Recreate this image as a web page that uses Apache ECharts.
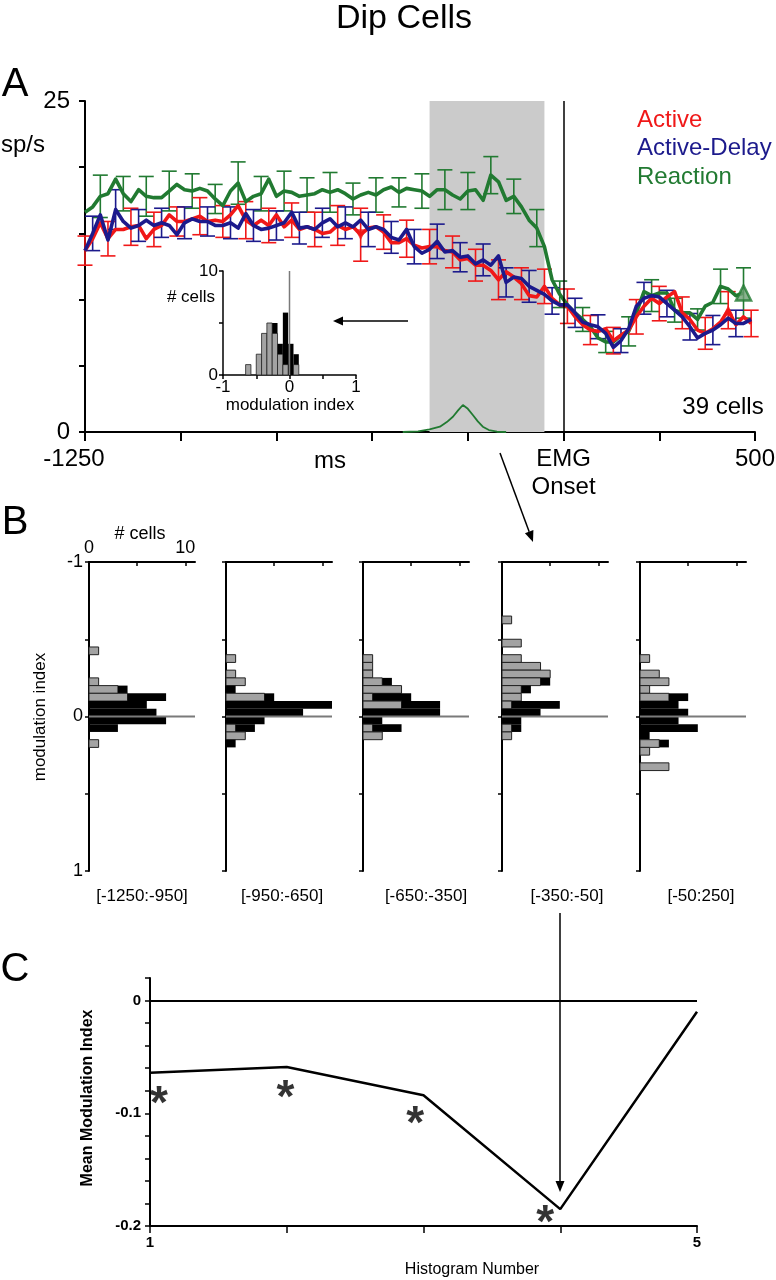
<!DOCTYPE html>
<html><head><meta charset="utf-8">
<script src="https://cdn.jsdelivr.net/npm/echarts@6.0.0/dist/echarts.min.js"></script>
<style>html,body{margin:0;padding:0;background:#fff;}#chart{width:776px;height:1280px;}</style>
</head><body><div id="chart"></div>
<script>
// ================= DATA =================
// Panel A: mean firing rate (sp/s) in 20 ms bins, time relative to EMG onset
const timeMs = [-1250,-1230,-1210,-1190,-1170,-1150,-1130,-1110,-1090,-1070,-1050,-1030,-1010,-990,-970,-950,-930,-910,-890,-870,-850,-830,-810,-790,-770,-750,-730,-710,-690,-670,-650,-630,-610,-590,-570,-550,-530,-510,-490,-470,-450,-430,-410,-390,-370,-350,-330,-310,-290,-270,-250,-230,-210,-190,-170,-150,-130,-110,-90,-70,-50,-30,-10,10,30,50,70,90,110,130,150,170,190,210,230,250,270,290,310,330,350,370,390,410,430,450,470,490];
const active = [13.7,14.6,15.8,14.6,15.3,15.3,15.5,15.6,14.6,15.3,15.6,16.4,15.9,15.9,16.1,16.3,15.9,16.0,15.9,16.4,17.1,16.0,15.6,16.0,15.6,16.4,15.5,16.0,15.3,15.5,
  15.3,15.0,15.1,15.6,15.3,15.5,14.9,15.4,15.5,15.1,14.3,14.3,14.6,14.1,13.9,14.0,14.0,13.7,13.6,13.0,13.1,12.6,12.6,12.2,11.5,12.1,11.7,
  11.2,10.3,10.2,11.0,10.1,9.6,9.5,8.7,8.1,7.7,7.6,7.8,6.9,7.3,7.7,8.7,9.5,10.1,9.7,10.2,10.6,9.0,8.5,7.7,7.45,7.8,8.3,9.2,8.1,8.7,8.2];
const activeDelay = [13.7,15.0,16.4,14.5,16.8,15.9,15.4,15.6,16.0,15.6,15.8,15.6,14.9,15.8,16.1,15.9,15.9,15.6,15.6,15.8,15.4,16.5,15.6,15.3,15.4,15.6,15.8,16.6,15.4,15.5,
  15.3,15.8,16.1,15.5,15.8,15.5,16.0,15.3,15.5,15.3,14.7,14.5,15.3,14.0,13.5,13.8,14.4,13.6,13.7,13.2,13.3,12.7,13.0,12.6,13.3,11.3,11.7,
  11.6,11.0,10.7,10.4,9.9,9.6,9.6,9.0,8.3,8.1,7.95,7.45,6.4,6.9,7.8,9.5,10.1,10.3,10.2,9.7,9.2,8.7,7.95,7.1,7.45,7.7,8.1,8.6,8.2,8.2,8.5];
const reaction = [16.6,17.0,17.8,18.0,19.1,18.0,17.4,18.3,17.8,17.7,17.7,18.2,18.7,18.3,18.2,18.4,18.2,17.6,17.1,18.2,18.8,17.4,17.8,18.0,19.1,17.8,18.2,18.1,17.8,17.9,
  18.0,18.3,18.1,18.3,18.0,17.6,17.9,18.1,17.9,18.3,18.5,18.1,18.4,18.3,18.2,17.8,18.3,18.3,17.9,17.6,18.2,18.3,17.5,19.4,18.9,17.5,17.8,
  17.0,16.0,15.4,14.0,11.5,10.4,9.6,9.0,8.5,7.95,7.1,6.8,6.8,7.3,7.6,9.0,10.6,10.3,10.5,10.5,9.2,9.0,9.0,8.5,9.5,9.8,11.0,10.8,10.3,10.5,null];
// SEM at every third bin (staggered per condition)
const activeErr = [1.1,1.3,1.4,1.3,1.1,1.4,1.2,1.4,1.3,1.3,1.3,1.5,2.0,1.3,1.4,1.3,1.2,1.2,1.5,1.2,1.3,1.3,1.1,1.0,1.3,1.3,1.2,1.2,1.4,1.0];
const activeDelayErr = [1.3,1.5,1.2,1.1,1.2,1.1,1.2,1.2,1.1,1.2,1.1,1.2,1.3,1.2,1.3,1.3,1.1,1.2,1.1,1.2,1.0,1.1,0.9,0.9,1.2,1.0,1.0,1.1,1.0];
const reactionErr = [1.6,1.3,1.5,1.5,1.3,1.1,1.6,1.3,1.5,1.3,1.5,1.2,1.3,1.1,1.3,1.5,1.4,1.4,1.3,1.4,1.0,0.9,0.8,1.1,1.2,0.9,0.8,1.3,1.9];
const errFirstBin = {active: 0, activeDelay: 1, reaction: 2};
// triangle markers (bin indices)
const activeDownMarks = [36];
const activeUpMarks = [84];
const reactionEndMarks = [86];
// reaction-time distribution curve (green, bottom)
const rtDistMs  = [-420,-380,-350,-323,-305,-289,-275,-263,-250,-237,-224,-211,-195,-174,-150];
const rtDistVal = [0,0.05,0.2,0.4,0.75,1.15,1.65,2.04,1.75,1.28,0.8,0.4,0.15,0.02,0];
const analysisWindowMs = [-350, -50];
const emgOnsetMs = 0;
const seriesNames = ['Active', 'Active-Delay', 'Reaction'];
const aXLabelValues = [-1250, 0, 500];
const aXLabelTexts = ['-1250', 'EMG\nOnset', '500'];
const aYLabelValues = [0, 25];

// Inset histogram (modulation index in the shaded window)
const insetBinLower = [-0.66,-0.58,-0.5,-0.42,-0.34,-0.26,-0.18,-0.1,-0.02,0.06];
const insetBinWidth = 0.08;
const insetGray  = [1,0,2,4,5,4,2,1,0,1];
const insetBlack = [0,0,0,0,0,1,1,5,3,1];

// Panel B histograms (bins of 0.05 modulation index)
const miBinLower = [-0.65,-0.6,-0.55,-0.5,-0.45,-0.4,-0.35,-0.3,-0.25,-0.2,-0.15,-0.1,-0.05,0,0.05,0.1,0.15,0.2,0.25,0.3];
const miBinWidth = 0.05;
const hist1Gray  = [0,0,0,0,1,0,0,0,1,3,4,0,0,0,0,0,1,0,0,0];
const hist1Black = [0,0,0,0,0,0,0,0,0,1,4,6,7,8,3,0,0,0,0,0];
const hist2Gray  = [0,0,0,0,0,1,0,1,2,0,4,0,0,0,1,2,0,0,0,0];
const hist2Black = [0,0,0,0,0,0,0,0,0,1,1,11,8,4,2,0,1,0,0,0];
const hist3Gray  = [0,0,0,0,0,1,1,1,2,4,1,4,0,0,1,2,0,0,0,0];
const hist3Black = [0,0,0,0,0,0,0,0,1,0,4,4,8,2,3,0,0,0,0,0];
const hist4Gray  = [1,0,0,2,0,2,4,5,4,2,2,1,0,0,1,1,0,0,0,0];
const hist4Black = [0,0,0,0,0,0,0,0,1,1,0,5,4,2,1,0,0,0,0,0];
const hist5Gray  = [0,0,0,0,0,1,0,2,3,1,3,0,0,0,0,0,2,1,0,3];
const hist5Black = [0,0,0,0,0,0,0,0,0,0,2,4,5,4,6,1,1,0,0,0];
const histLabels = ['[-1250:-950]', '[-950:-650]', '[-650:-350]', '[-350:-50]', '[-50:250]'];

// Panel C
const histNumber = [1, 2, 3, 4, 5];
const meanMI = [-0.064, -0.059, -0.084, -0.185, -0.010];
const starX = [1.066, 1.99, 2.94, 3.89];
const starY = [-0.082, -0.077, -0.100, -0.188];

// ================= STYLE / LAYOUT =================
const F = '"Liberation Sans", Arial, Helvetica, sans-serif';
const RED = '#f01818', NAVY = '#1c1a8c', GREEN = '#217a31', GRAYBAR = '#a3a3a3';
const histLeft = [89, 226, 363, 502, 640];
const histLabelX = [142, 282, 426, 567, 701];

const histGray = [hist1Gray, hist2Gray, hist3Gray, hist4Gray, hist5Gray];
const histBlack = [hist1Black, hist2Black, hist3Black, hist4Black, hist5Black];

function errData(vals, errs, start) {
  return errs.map(function (e, j) { const k = start + 3 * j; return [timeMs[k], vals[k], e]; });
}
function errRender(color) {
  return function (params, api) {
    const t = api.value(0), v = api.value(1), e = api.value(2);
    const a = api.coord([t, v + e]), b = api.coord([t, v - e]);
    const hw = 7.5, st = {stroke: color, lineWidth: 1.6};
    return {type: 'group', children: [
      {type: 'line', shape: {x1: a[0], y1: a[1], x2: b[0], y2: b[1]}, style: st},
      {type: 'line', shape: {x1: a[0] - hw, y1: a[1], x2: a[0] + hw, y2: a[1]}, style: st},
      {type: 'line', shape: {x1: b[0] - hw, y1: b[1], x2: b[0] + hw, y2: b[1]}, style: st}
    ]};
  };
}
function rectBetween(p, q, style) {
  return {type: 'rect', shape: {x: Math.min(p[0], q[0]), y: Math.min(p[1], q[1]),
    width: Math.abs(q[0] - p[0]), height: Math.abs(q[1] - p[1])}, style: style};
}
function insetRender(params, api) {
  const lo = api.value(0), g = api.value(1), b = api.value(2), hi = lo + insetBinWidth;
  const ch = [];
  if (g > 0) ch.push(rectBetween(api.coord([lo, 0]), api.coord([hi, g]), {fill: GRAYBAR, stroke: '#222', lineWidth: 0.8}));
  if (b > 0) ch.push(rectBetween(api.coord([lo, g]), api.coord([hi, g + b]), {fill: '#000'}));
  if (params.dataIndex === 0) {
    const z0 = api.coord([0, 0]), z1 = api.coord([0, 10]);
    ch.push({type: 'line', z2: 10, shape: {x1: z0[0], y1: z0[1], x2: z1[0], y2: z1[1]}, style: {stroke: '#7a7a7a', lineWidth: 1.5}});
  }
  return {type: 'group', children: ch};
}
function histRender(params, api) {
  const lo = api.value(0), g = api.value(1), b = api.value(2), hi = lo + miBinWidth;
  const ch = [];
  if (g > 0) ch.push(rectBetween(api.coord([0, lo]), api.coord([g, hi]), {fill: GRAYBAR, stroke: '#222', lineWidth: 1}));
  if (b > 0) ch.push(rectBetween(api.coord([g, lo]), api.coord([g + b, hi]), {fill: '#000'}));
  if (params.dataIndex === 0) {
    const z0 = api.coord([0, 0]), z1 = api.coord([11, 0]);
    ch.push({type: 'line', z2: 10, shape: {x1: z0[0], y1: z0[1], x2: z1[0], y2: z1[1]}, style: {stroke: '#7a7a7a', lineWidth: 2}});
  }
  return {type: 'group', children: ch};
}
function T(x, y, text, size, extra) {
  extra = extra || {};
  const st = {text: text, fill: extra.fill || '#000', fontSize: size, fontFamily: F,
    fontWeight: extra.weight || 'normal', align: extra.align || 'center', textAlign: extra.align || 'center',
    verticalAlign: 'middle', textVerticalAlign: 'middle'};
  return {type: 'text', x: x, y: y, rotation: extra.rotation || 0, style: st, z: 100};
}
function arrow(x1, y1, x2, y2, len, hw) {
  const ang = Math.atan2(y2 - y1, x2 - x1);
  const bx = x2 - len * Math.cos(ang), by = y2 - len * Math.sin(ang);
  const px = -Math.sin(ang) * hw, py = Math.cos(ang) * hw;
  return [
    {type: 'line', z: 100, shape: {x1: x1, y1: y1, x2: bx, y2: by}, style: {stroke: '#000', lineWidth: 1.5}},
    {type: 'polygon', z: 100, shape: {points: [[x2, y2], [bx + px, by + py], [bx - px, by - py]]}, style: {fill: '#000'}}
  ];
}

const axisLineBlack = {onZero: false, lineStyle: {color: '#000', width: 2}};
const grids = [
  {left: 85, top: 101, width: 670, height: 331},
  {left: 223, top: 271, width: 133, height: 104}
];
histLeft.forEach(function (l) { grids.push({left: l, top: 562, width: 106, height: 309}); });
grids.push({left: 150, top: 978, width: 547, height: 248});
grids.forEach(function (g) { g.containLabel = false; g.outerBoundsMode = 'none'; });

const xAxes = [], yAxes = [];
// A
xAxes.push({gridIndex: 0, type: 'value', min: -1250, max: 500, interval: 250,
  axisLine: axisLineBlack, splitLine: {show: false},
  axisTick: {length: 9, lineStyle: {color: '#000', width: 2}},
  axisLabel: {customValues: aXLabelValues, margin: 13, color: '#000', fontSize: 24, fontFamily: F, lineHeight: 28,
    formatter: function (v) { const i = aXLabelValues.indexOf(v); if (i < 0) return ''; return i === 0 ? '{s|' + aXLabelTexts[i] + '}' : aXLabelTexts[i]; },
    rich: {s: {fontSize: 24, fontFamily: F, color: '#000', padding: [0, 22, 0, 0]}}}});
yAxes.push({gridIndex: 0, type: 'value', min: 0, max: 25, interval: 5,
  axisLine: axisLineBlack, splitLine: {show: false},
  axisTick: {length: 6, lineStyle: {color: '#000', width: 2}},
  axisLabel: {customValues: aYLabelValues, margin: 15, color: '#000', fontSize: 24, fontFamily: F}});
// inset
xAxes.push({gridIndex: 1, type: 'value', min: -1, max: 1, interval: 0.5,
  axisLine: {onZero: false, lineStyle: {color: '#000', width: 1.5}}, splitLine: {show: false},
  axisTick: {length: 4, lineStyle: {color: '#000', width: 1.5}},
  axisLabel: {customValues: [-1, 0, 1], margin: 4, color: '#000', fontSize: 17, fontFamily: F}});
yAxes.push({gridIndex: 1, type: 'value', min: 0, max: 10, interval: 5,
  axisLine: {onZero: false, lineStyle: {color: '#000', width: 1.5}}, splitLine: {show: false},
  axisTick: {length: 4, lineStyle: {color: '#000', width: 1.5}},
  axisLabel: {customValues: [0, 10], margin: 5, color: '#000', fontSize: 17, fontFamily: F}});
// B
histLeft.forEach(function (l, i) {
  xAxes.push({gridIndex: 2 + i, type: 'value', position: 'top', min: 0, max: 11, interval: 5,
    axisLine: axisLineBlack, splitLine: {show: false},
    axisTick: {customValues: [0, 5, 10], inside: true, length: 4, lineStyle: {color: '#000', width: 1.5}},
    axisLabel: {show: i === 0, customValues: [0, 10], margin: 5, color: '#000', fontSize: 18, fontFamily: F}});
  yAxes.push({gridIndex: 2 + i, type: 'value', inverse: true, min: -1, max: 1, interval: 0.5,
    axisLine: axisLineBlack, splitLine: {show: false},
    axisTick: {length: 4, lineStyle: {color: '#000', width: 1.5}},
    axisLabel: {show: i === 0, customValues: [-1, 0, 1], margin: 6, color: '#000', fontSize: 18, fontFamily: F}});
});
// C
xAxes.push({gridIndex: 7, type: 'value', min: 1, max: 5, interval: 1,
  axisLine: axisLineBlack, splitLine: {show: false},
  axisTick: {length: 7, lineStyle: {color: '#000', width: 1.5}},
  axisLabel: {customValues: [1, 5], margin: 9, color: '#000', fontSize: 15, fontWeight: 'bold', fontFamily: F}});
yAxes.push({gridIndex: 7, type: 'value', min: -0.2, max: 0.02, interval: 0.02,
  axisLine: axisLineBlack, splitLine: {show: false},
  axisTick: {length: 5, lineStyle: {color: '#000', width: 1.5}},
  axisLabel: {customValues: [0, -0.1, -0.2], margin: 9, color: '#000', fontSize: 15, fontWeight: 'bold', fontFamily: F,
    formatter: function (v) { return Math.abs(v) < 1e-9 ? '0' : v.toFixed(1); }}});

const series = [];
// shaded analysis window + EMG onset line (host series invisible)
series.push({type: 'line', xAxisIndex: 0, yAxisIndex: 0, z: 0, silent: true,
  data: analysisWindowMs.map(function (t) { return [t, 0]; }), showSymbol: false, lineStyle: {opacity: 0},
  markArea: {silent: true, itemStyle: {color: '#cbcbcb'}, label: {show: false},
    data: [[{xAxis: analysisWindowMs[0], yAxis: 0}, {xAxis: analysisWindowMs[1], yAxis: 25}]]},
  markLine: {silent: true, symbol: ['none', 'none'], label: {show: false},
    lineStyle: {color: '#000', width: 1.5, type: 'solid'}, data: [{xAxis: emgOnsetMs}]}});
// reaction time distribution
series.push({type: 'line', xAxisIndex: 0, yAxisIndex: 0, z: 2, showSymbol: false, silent: true,
  data: rtDistMs.map(function (t, i) { return [t, rtDistVal[i]]; }), lineStyle: {color: GREEN, width: 1.8}});
// error bars
[[reaction, reactionErr, errFirstBin.reaction, GREEN], [active, activeErr, errFirstBin.active, RED], [activeDelay, activeDelayErr, errFirstBin.activeDelay, NAVY]].forEach(function (s) {
  series.push({type: 'custom', xAxisIndex: 0, yAxisIndex: 0, z: 3, silent: true,
    data: errData(s[0], s[1], s[2]), renderItem: errRender(s[3])});
});
// mean rate lines
[[seriesNames[2], reaction, GREEN], [seriesNames[0], active, RED], [seriesNames[1], activeDelay, NAVY]].forEach(function (s) {
  series.push({type: 'line', name: s[0], xAxisIndex: 0, yAxisIndex: 0, z: 4, showSymbol: false, silent: true,
    data: timeMs.map(function (t, i) { return [t, s[1][i]]; }),
    lineStyle: {color: s[2], width: 3.6, join: 'round'}});
});
// triangle markers
series.push({type: 'scatter', xAxisIndex: 0, yAxisIndex: 0, z: 5, silent: true, symbol: 'triangle', symbolSize: 11, symbolRotate: 180,
  itemStyle: {color: RED}, data: activeDownMarks.map(function (k) { return [timeMs[k], active[k]]; })});
series.push({type: 'scatter', xAxisIndex: 0, yAxisIndex: 0, z: 5, silent: true, symbol: 'triangle', symbolSize: 10,
  itemStyle: {color: RED}, data: activeUpMarks.map(function (k) { return [timeMs[k], active[k]]; })});
series.push({type: 'scatter', xAxisIndex: 0, yAxisIndex: 0, z: 5, silent: true, symbol: 'triangle', symbolSize: 15,
  itemStyle: {color: '#6e9f74', borderColor: GREEN, borderWidth: 2.5}, data: reactionEndMarks.map(function (k) { return [timeMs[k], reaction[k]]; })});
// inset histogram
series.push({type: 'custom', xAxisIndex: 1, yAxisIndex: 1, z: 3, silent: true,
  data: insetBinLower.map(function (lo, i) { return [lo, insetGray[i], insetBlack[i]]; }), renderItem: insetRender});
// panel B histograms
histLeft.forEach(function (l, h) {
  series.push({type: 'custom', xAxisIndex: 2 + h, yAxisIndex: 2 + h, z: 3, silent: true,
    encode: {x: 1, y: 0},
    data: miBinLower.map(function (lo, i) { return [lo, histGray[h][i], histBlack[h][i]]; }), renderItem: histRender});
});
// panel C
series.push({type: 'line', xAxisIndex: 7, yAxisIndex: 7, z: 3, showSymbol: false, silent: true,
  data: histNumber.map(function (n, i) { return [n, meanMI[i]]; }), lineStyle: {color: '#000', width: 2.5},
  markLine: {silent: true, symbol: ['none', 'none'], label: {show: false},
    lineStyle: {color: '#000', width: 2, type: 'solid'}, data: [{yAxis: 0}]}});
series.push({type: 'scatter', xAxisIndex: 7, yAxisIndex: 7, z: 4, silent: true, symbolSize: 1,
  itemStyle: {color: 'rgba(0,0,0,0)'},
  label: {show: true, position: 'inside', formatter: '*', color: '#000', fontSize: 46, fontWeight: 'bold', fontFamily: F, offset: [0, 12]},
  data: starX.map(function (x, i) { return [x, starY[i]]; })});

const graphics = [
  T(404, 19, 'Dip Cells', 34),
  T(15, 85, 'A', 40),
  T(15, 523, 'B', 40),
  T(15, 970, 'C', 40),
  T(1, 145, 'sp/s', 24, {align: 'left'}),
  T(637, 120, seriesNames[0], 24, {align: 'left', fill: RED}),
  T(637, 148, seriesNames[1], 24, {align: 'left', fill: NAVY}),
  T(637, 177, seriesNames[2], 24, {align: 'left', fill: GREEN}),
  T(723, 407, '39 cells', 24),
  T(330, 461, 'ms', 24),
  T(191, 297, '# cells', 17),
  T(290, 405, 'modulation index', 17),
  T(140, 534, '# cells', 18),
  T(40, 717, 'modulation index', 17, {rotation: Math.PI / 2}),
  T(88, 1098, 'Mean Modulation Index', 16, {rotation: Math.PI / 2, weight: 'bold'}),
  T(472, 1270, 'Histogram Number', 16)
];
histLabels.forEach(function (s, i) { graphics.push(T(histLabelX[i], 896, s, 17)); });
arrow(408, 321, 333, 321, 10, 4.5).forEach(function (e) { graphics.push(e); });
arrow(500, 453, 533, 542, 11, 4.5).forEach(function (e) { graphics.push(e); });
arrow(560, 913, 560, 1192, 11, 4.5).forEach(function (e) { graphics.push(e); });

const chart = echarts.init(document.getElementById('chart'), null, {renderer: 'canvas', width: 776, height: 1280});
chart.setOption({
  animation: false,
  backgroundColor: '#fff',
  grid: grids,
  xAxis: xAxes,
  yAxis: yAxes,
  series: series,
  graphic: graphics
});
</script>
</body></html>
